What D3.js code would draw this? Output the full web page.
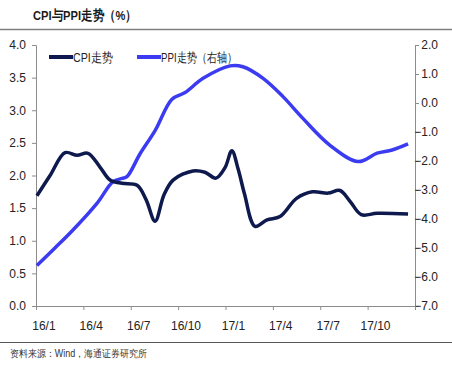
<!DOCTYPE html>
<html><head><meta charset="utf-8">
<script src="https://cdn.jsdelivr.net/npm/d3@7/dist/d3.min.js"></script>
<style>
body{margin:0;background:#fff;}
svg text{font-family:"Liberation Sans Narrow","Arial Narrow","Liberation Sans",sans-serif;}
</style></head><body>
<svg id="c" width="452" height="365"></svg>
<script>
// month positions (months since 2016/1) and values
const cpiMonths = [0.06,0.89,1.84,2.6,3.29,4.05,4.69,5.45,6.4,6.97,7.54,8.1,8.68,9.94,10.7,11.4,11.97,12.4,12.8,13.2,13.87,14.63,15.45,16.5,17.5,18.5,19.25,19.9,20.6,21.6,23.56];
const cpiValues = [1.69,2.0,2.35,2.31,2.34,2.13,1.93,1.88,1.85,1.63,1.30,1.70,1.93,2.07,2.05,1.96,2.12,2.38,2.1,1.72,1.22,1.32,1.37,1.65,1.75,1.73,1.77,1.60,1.40,1.42,1.41];
const ppiMonths = [0.06,1.2,2.34,3.86,4.88,5.45,5.76,6.59,7.54,8.61,9.44,10.58,12.29,13.1,14.38,15.64,16.9,18.6,20.4,21.6,22.55,23.56];
const ppiValues = [-5.6,-5.0,-4.38,-3.46,-2.71,-2.6,-2.54,-1.75,-0.95,0.13,0.36,0.85,1.28,1.25,0.85,0.22,-0.53,-1.45,-2.02,-1.73,-1.62,-1.41];
const xTickLabels = ["16/1","16/4","16/7","16/10","17/1","17/4","17/7","17/10"];
const leftTicks = [0,0.5,1,1.5,2,2.5,3,3.5,4];
const rightTicks = [2,1,0,-1,-2,-3,-4,-5,-6,-7];
const seriesNames = ["CPI走势","PPI走势（右轴）"];

const svg = d3.select("#c");
const L=36, R=415, T=45, B=306;
const x = d3.scaleLinear().domain([0,24]).range([L,R]);
const yL = d3.scaleLinear().domain([0,4]).range([B,T]);
const yR = d3.scaleLinear().domain([-7,2]).range([B,T]);
const axisColor="#8c8c8c";

// title
svg.append("text").attr("x",33).attr("y",20).attr("font-size",13.5).attr("font-weight","bold")
  .attr("fill","#1a1a1a").attr("textLength",104).attr("lengthAdjust","spacingAndGlyphs").text("CPI与PPI走势（%）");
svg.append("line").attr("x1",0).attr("x2",452).attr("y1",29.5).attr("y2",29.5)
  .attr("stroke","#7f7f7f").attr("stroke-width",1.5);

// left axis
const gL = svg.append("g").attr("transform",`translate(${L},0)`)
  .call(d3.axisLeft(yL).tickValues(leftTicks).tickFormat(d3.format(".1f")).tickSizeOuter(0).tickSize(4).tickPadding(6));
// right axis
const gR = svg.append("g").attr("transform",`translate(${R},0)`)
  .call(d3.axisRight(yR).tickValues(rightTicks).tickFormat(d3.format(".1f")).tickSizeOuter(0).tickSize(4).tickPadding(6));
gR.selectAll(".tick text").attr("text-anchor","end").attr("x",23);
// bottom axis
const gB = svg.append("g").attr("transform",`translate(0,${B})`)
  .call(d3.axisBottom(x).tickValues(d3.range(0,25,3)).tickFormat("").tickSizeOuter(0).tickSize(4));
gB.selectAll(".tick").filter(d=>d===24).select("line").attr("y2",0);
const gLab = svg.append("g");
gLab.selectAll("text").data(xTickLabels).join("text")
  .attr("x",(d,i)=>x(i*3+0.5)).attr("y",330).attr("text-anchor","middle")
  .attr("font-size",12).attr("fill","#222").text(d=>d);

[gL,gR,gB].forEach(g=>{
  g.selectAll("path,line").attr("stroke",axisColor);
  g.selectAll("text").attr("font-size",12).attr("fill","#222")
   .attr("font-family","'Liberation Sans Narrow','Arial Narrow','Liberation Sans',sans-serif");
});

// lines
const cpiData = cpiMonths.map((m,i)=>[m,cpiValues[i]]);
const ppiData = ppiMonths.map((m,i)=>[m,ppiValues[i]]);
const lineL = d3.line().x(d=>x(d[0])).y(d=>yL(d[1])).curve(d3.curveCatmullRom.alpha(0.5));
const lineR = d3.line().x(d=>x(d[0])).y(d=>yR(d[1])).curve(d3.curveCatmullRom.alpha(0.5));
const cpiColor="#0e1a4d", ppiColor="#3b3bf2";
svg.append("path").attr("d",lineR(ppiData)).attr("fill","none").attr("stroke",ppiColor).attr("stroke-width",3.5).attr("stroke-linejoin","round");
svg.append("path").attr("d",lineL(cpiData)).attr("fill","none").attr("stroke",cpiColor).attr("stroke-width",3.5).attr("stroke-linejoin","round");

// legend
const leg = [{n:seriesNames[0],c:cpiColor,x:49,w:40},{n:seriesNames[1],c:ppiColor,x:137,w:76}];
leg.forEach(l=>{
  svg.append("line").attr("x1",l.x).attr("x2",l.x+24).attr("y1",57).attr("y2",57)
    .attr("stroke",l.c).attr("stroke-width",4);
  svg.append("text").attr("x",l.x+24).attr("y",61.5).attr("font-size",12.5).attr("fill","#222")
    .attr("textLength",l.w).attr("lengthAdjust","spacingAndGlyphs").text(l.n);
});

// footer
svg.append("line").attr("x1",0).attr("x2",452).attr("y1",342.5).attr("y2",342.5)
  .attr("stroke","#555").attr("stroke-width",1.2);
svg.append("text").attr("x",10).attr("y",357).attr("font-size",10).attr("fill","#333")
  .attr("textLength",137).attr("lengthAdjust","spacingAndGlyphs")
  .text("资料来源：Wind，海通证券研究所");
</script></body></html>
